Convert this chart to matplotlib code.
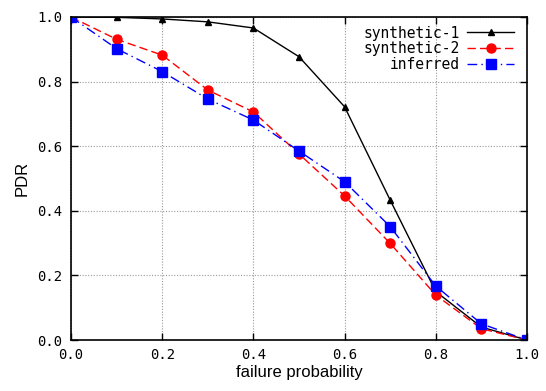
import matplotlib
matplotlib.use("Agg")
import matplotlib.pyplot as plt

x = [0.0, 0.1, 0.2, 0.3, 0.4, 0.5, 0.6, 0.7, 0.8, 0.9, 1.0]
synthetic1 = [1.0, 0.999, 0.994, 0.985, 0.966, 0.877, 0.722, 0.433, 0.150, 0.040, 0.0]
synthetic2 = [1.0, 0.931, 0.882, 0.774, 0.706, 0.576, 0.446, 0.299, 0.139, 0.035, 0.0]
inferred = [1.0, 0.902, 0.831, 0.746, 0.681, 0.585, 0.490, 0.351, 0.167, 0.050, 0.0]
labels = ["synthetic-1", "synthetic-2", "inferred"]
xticks = [0.0, 0.2, 0.4, 0.6, 0.8, 1.0]
yticks = [0.0, 0.2, 0.4, 0.6, 0.8, 1.0]

fig = plt.figure(figsize=(5.46, 3.91), dpi=100)
ax = fig.add_axes([71/546, 1 - 340/391, (527 - 71)/546, (340 - 17)/391])

ax.plot(x, synthetic1, color="black", lw=1.0, ls="-", marker="^", ms=5, label=labels[0])
ax.plot(x, synthetic2, color="#ff0000", lw=1.0, ls=(0, (6, 3)), marker="o", ms=6.5, label=labels[1])
ax.plot(x, inferred, color="#0000ff", lw=1.0, ls=(0, (7, 3, 1, 3)), marker="s", ms=6.5, label=labels[2])

ax.set_xlim(0, 1)
ax.set_ylim(0, 1)
ax.set_xticks(xticks)
ax.set_yticks(yticks)
ax.set_xticklabels([f"{v:.1f}" for v in xticks])
ax.set_yticklabels([f"{v:.1f}" for v in yticks])
ax.grid(True, color="#999999", ls=(0, (1, 1.5)), lw=0.8)
ax.set_axisbelow(True)
ax.tick_params(direction="in", length=5, width=1, top=True, right=True,
               labelsize=10, pad=6)
for lab in ax.get_xticklabels() + ax.get_yticklabels():
    lab.set_family("DejaVu Sans Mono")
for s in ax.spines.values():
    s.set_linewidth(1.2)

ax.set_xlabel("failure probability", fontsize=12, family="Liberation Sans", labelpad=2)
ax.set_ylabel("PDR", fontsize=12, family="Liberation Sans", labelpad=6)

leg = ax.legend(loc="upper right", markerfirst=False, frameon=False,
                prop={"family": "DejaVu Sans Mono", "size": 10.5},
                handlelength=3.2, handletextpad=0.5, labelspacing=0.05,
                borderaxespad=0.3, bbox_to_anchor=(0.994, 1.005))

fig.savefig("out.png", dpi=100)
